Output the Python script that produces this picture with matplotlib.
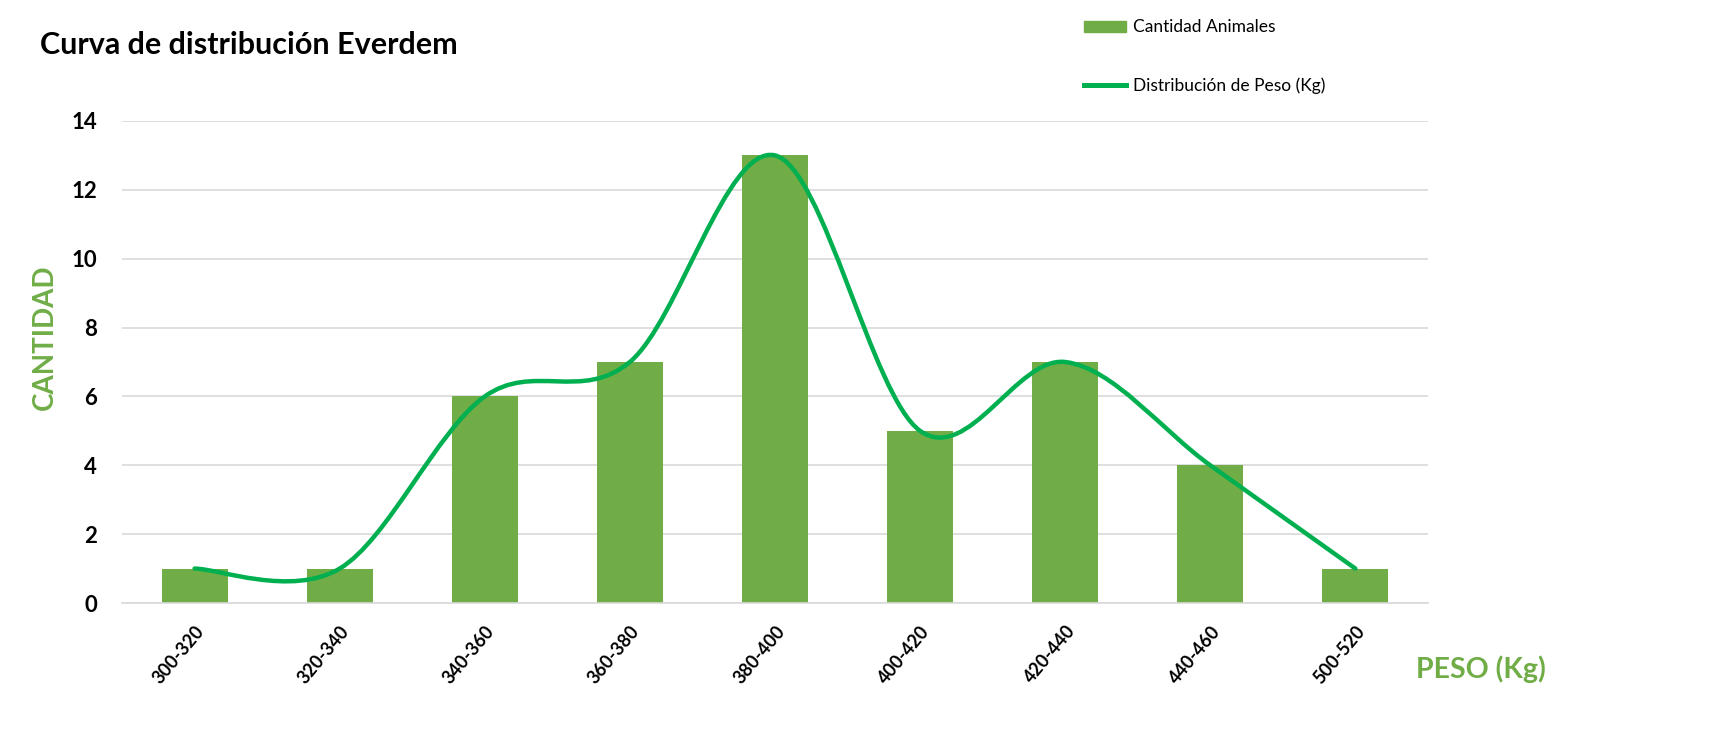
import numpy as np
import matplotlib
matplotlib.use("Agg")
import matplotlib.pyplot as plt
from matplotlib.path import Path
from matplotlib.patches import PathPatch
from matplotlib.lines import Line2D
from matplotlib.patches import Patch

# data
rangos = ["300-320", "320-340", "340-360", "360-380", "380-400",
          "400-420", "420-440", "440-460", "500-520"]
cantidad = [1, 1, 6, 7, 13, 5, 7, 4, 1]

bar_color = "#70AD47"
line_color = "#00B050"

plt.rcParams['font.family'] = ['Lato', 'DejaVu Sans']

fig = plt.figure(figsize=(17.26, 7.44), dpi=100)
ax = fig.add_axes([0.0707, 0.1895, 0.7566, 0.6479])

x = np.arange(len(rangos))
ax.bar(x, cantidad, width=0.455, color=bar_color, zorder=2)

# smoothed line (excel-style bezier through the points)
pts = np.column_stack([x, cantidad]).astype(float)
verts = [tuple(pts[0])]
codes = [Path.MOVETO]
n = len(pts)
for i in range(n - 1):
    p0 = pts[i - 1] if i > 0 else pts[i]
    p1 = pts[i]
    p2 = pts[i + 1]
    p3 = pts[i + 2] if i + 2 < n else pts[i + 1]
    c1 = p1 + (p2 - p0) / 6.0
    c2 = p2 - (p3 - p1) / 6.0
    verts += [tuple(c1), tuple(c2), tuple(p2)]
    codes += [Path.CURVE4] * 3
ax.add_patch(PathPatch(Path(verts, codes), facecolor="none", edgecolor=line_color,
                       lw=3.2, capstyle="round", zorder=3))

ax.set_xlim(-0.5, len(rangos) - 0.5)
ax.set_ylim(0, 14)
ax.set_yticks(range(0, 15, 2))
ax.yaxis.grid(True, color="#D9D9D9", lw=1.2, zorder=0)
ax.set_axisbelow(True)
for s in ["top", "right", "left"]:
    ax.spines[s].set_visible(False)
ax.spines["bottom"].set_color("#D9D9D9")
ax.spines["bottom"].set_linewidth(1.2)
ax.tick_params(axis="both", length=0)
ax.tick_params(axis="y", pad=18)
ax.tick_params(axis="x", pad=14)
ax.set_xticks(x)
ax.set_xticklabels(rangos, rotation=50, ha="right", va="top", rotation_mode="anchor",
                   fontsize=13, fontweight="bold")
for lab in ax.get_yticklabels():
    lab.set_fontsize(16)
    lab.set_fontweight("bold")

fig.text(0.023, 0.94, "Curva de distribución Everdem", fontsize=22, fontweight="bold",
         va="center", ha="left")
fig.text(0.026, 0.547, "CANTIDAD", rotation=90, color=bar_color, fontsize=20,
         fontweight="bold", va="center", ha="center")
fig.text(0.858, 0.10, "PESO (Kg)", color=bar_color, fontsize=20.5,
         fontweight="bold", va="center", ha="center")

handles = [Patch(color=bar_color), Line2D([], [], color=line_color, lw=3.6)]
fig.legend(handles, ["Cantidad Animales", "Distribución de Peso (Kg)"],
           loc="upper left", bbox_to_anchor=(0.619, 0.995), frameon=False,
           fontsize=12.5, handlelength=2.4, handleheight=0.6, handletextpad=0.4,
           labelspacing=2.4)

fig.savefig("out.png", dpi=100)
